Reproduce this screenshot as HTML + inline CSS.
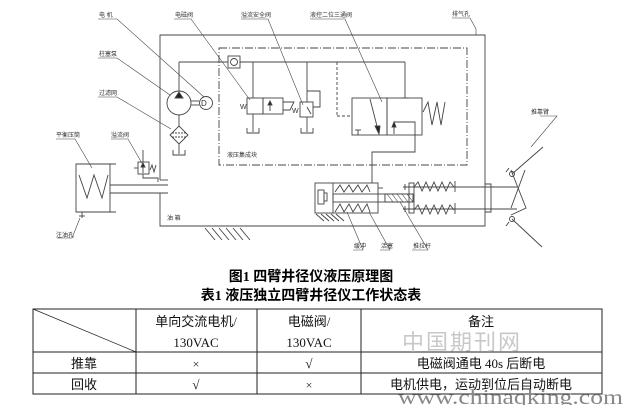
<!DOCTYPE html>
<html><head><meta charset="utf-8"><style>
html,body{margin:0;padding:0;background:#fff;}
svg{display:block;}
text{font-family:"Liberation Serif","Noto Sans CJK SC",serif;}
.s{font-family:"Liberation Sans","Noto Sans CJK SC",sans-serif;font-size:6px;fill:#333;}
</style></head><body>
<svg width="623" height="405" viewBox="0 0 623 405" xmlns="http://www.w3.org/2000/svg">
<g stroke="#444" stroke-width="0.9" fill="none">
<polyline points="160,180 160,35 485,35 485,226 160,226 160,193"/>
<line x1="160" y1="180" x2="168" y2="180"/><line x1="160" y1="193" x2="168" y2="193"/>
<rect x="219" y="48" width="248" height="117" stroke-dasharray="8,2,1,2"/>
<line x1="179" y1="62" x2="228" y2="62"/><line x1="240" y1="62" x2="405" y2="62"/>
<line x1="179" y1="62" x2="179" y2="91"/>
<rect x="228" y="56" width="12" height="12"/><circle cx="234" cy="62" r="3.5"/>
<circle cx="179" cy="103" r="12"/>
<polygon points="179,92 175,98 183,98" fill="#222"/>
<line x1="191" y1="101" x2="199" y2="101"/><line x1="191" y1="105" x2="199" y2="105"/>
<circle cx="206" cy="103" r="6.5"/>
<line x1="179" y1="115" x2="179" y2="126"/>
<polygon points="179,126 188,135 179,144 170,135"/>
<line x1="172" y1="133" x2="186" y2="133" stroke-dasharray="2,1"/>
<line x1="172" y1="137" x2="186" y2="137" stroke-dasharray="2,1"/>
<line x1="179" y1="144" x2="179" y2="154"/>
<polyline points="173,150 173,155 185,155 185,150"/>
<line x1="253" y1="62" x2="253" y2="98"/>
<rect x="247" y="98" width="16" height="16"/><rect x="263" y="98" width="20" height="16"/>
<path d="M283,102 L294,102 L290,110 L283,110"/>
<line x1="270" y1="111" x2="270" y2="103"/><polygon points="270,101 268,105 272,105" fill="#222"/>
<line x1="253" y1="114" x2="253" y2="132"/><polyline points="247,128 247,133 259,133 259,128"/>
<line x1="307" y1="62" x2="307" y2="102"/>
<rect x="300" y="102" width="13" height="15"/>
<line x1="307" y1="107" x2="311" y2="114"/>
<polyline points="313,107 320,107 320,91 307,91"/>
<line x1="307" y1="117" x2="307" y2="132"/><polyline points="301,128 301,133 313,133 313,128"/>
<rect x="352" y="98" width="35" height="37"/><rect x="387" y="98" width="35" height="37"/>
<line x1="405" y1="62" x2="405" y2="98"/><line x1="401" y1="98" x2="409" y2="98"/>
<line x1="337" y1="62" x2="337" y2="116" stroke-dasharray="3,2"/>
<line x1="337" y1="116" x2="352" y2="116" stroke-dasharray="3,2"/>
<line x1="370" y1="99" x2="378" y2="130"/><polygon points="379,134 375,126 380,126" fill="#222"/>
<polyline points="394,134 394,122 415,122 415,152 372,152 372,183"/>
<polygon points="394,122 392,127 396,127" fill="#222"/>
<line x1="358" y1="130" x2="358" y2="135"/><line x1="355" y1="130" x2="361" y2="130"/>
<polyline points="423,112 428,102 432,125 437,102 441,125 445,102"/>
<rect x="315" y="183" width="63" height="30"/>
<line x1="333" y1="183" x2="333" y2="213"/>
<rect x="318" y="190" width="6" height="14"/><rect x="324" y="193" width="3" height="8"/>
<polyline points="335,192 340,185 344,192 349,185 353,192 358,185 362,192 367,185 370,192"/>
<polyline points="335,212 340,204 344,212 349,204 353,212 358,204 362,212 367,204 370,212"/>
<rect x="333" y="194" width="52" height="8"/>
<line x1="378" y1="188" x2="383" y2="188"/>
<polygon points="385,194 413,194 413,202 385,202" fill="#fff"/>
<path d="M387,194 l6,8 M392,194 l6,8 M397,194 l6,8 M402,194 l6,8 M407,194 l6,8" stroke-width="0.6"/>
<rect x="409" y="183" width="5" height="30"/>
<polyline points="414,187 418,182 422,191 426,182 430,191 434,182 438,191 442,182 446,191 450,182 454,187"/>
<polyline points="414,210 418,205 422,214 426,205 430,214 434,205 438,214 442,205 446,214 450,205 454,210"/>
<line x1="455" y1="181" x2="455" y2="192"/><line x1="455" y1="203" x2="455" y2="214"/>
<line x1="403" y1="187" x2="517" y2="187"/><line x1="403" y1="209" x2="517" y2="209"/>
<line x1="405" y1="184" x2="405" y2="190"/><line x1="405" y1="206" x2="405" y2="212"/>
<path d="M485,184 l6,0 l0,28 l-6,0" />
<polyline points="511,170 526,208 511,215"/>
<polyline points="525,170 511,208"/>
<circle cx="512" cy="174" r="2.5"/><circle cx="512" cy="219" r="2.5"/>
<line x1="512" y1="174" x2="543" y2="147"/><line x1="512" y1="219" x2="542" y2="247"/>
<line x1="509" y1="168" x2="506" y2="172"/><line x1="509" y1="222" x2="506" y2="226"/>
<path d="M205,228 l10,12 M212,228 l10,12 M219,228 l10,12 M226,228 l10,12 M233,228 l10,12 M240,228 l10,12"/>
<path d="M316,214 l8,7 M321,214 l8,7 M326,214 l8,7 M331,214 l8,7 M336,214 l8,7"/>
<polyline points="116,164 76,164 76,212 116,212"/>
<line x1="110" y1="164" x2="110" y2="212"/>
<polyline points="79,175 87,198 94,175 102,198 108,175"/>
<line x1="110" y1="185" x2="168" y2="185"/><line x1="110" y1="193" x2="168" y2="193"/>
<line x1="82" y1="212" x2="82" y2="218"/><line x1="79" y1="216" x2="85" y2="216"/>
<rect x="138" y="162" width="11" height="12"/>
<line x1="143" y1="173" x2="143" y2="164"/><polygon points="143,163 141,167 145,167" fill="#222"/>
<line x1="134" y1="168" x2="138" y2="168"/>
<line x1="143" y1="150" x2="143" y2="162"/>
<polyline points="143,174 143,178 158,178 158,182"/>
<polyline points="150,170 152,165 154,172 156,165"/>
<g stroke-width="0.6">
<polyline points="98,19 117,19 204,97"/>
<polyline points="98,58 117,58 170,95"/>
<polyline points="98,97 117,97 171,129"/>
<polyline points="174,19 191,19 250,100"/>
<polyline points="241,19 268,19 303,105"/>
<polyline points="310,19 345,19 382,102"/>
<polyline points="452,18 470,18 476,29 476,35"/>
<polyline points="540,116 557,116 531,147"/>
<polyline points="56,139 75,139 92,168"/>
<polyline points="111,139 128,139 143,165"/>
<polyline points="57,238 72,238 80,218"/>
<polyline points="353,250 363,250 347,212"/>
<polyline points="380,250 390,250 369,212"/>
<polyline points="412,250 428,250 400,202"/>
</g>
</g>
<g>
<text class="s" x="99" y="17">电  机</text>
<text class="s" x="99" y="56">柱塞泵</text>
<text class="s" x="99" y="95">过滤网</text>
<text class="s" x="175" y="17">电磁阀</text>
<text class="s" x="241" y="17">溢流安全阀</text>
<text class="s" x="310" y="17">液控二位三通阀</text>
<text class="s" x="452" y="16">排气孔</text>
<text class="s" x="531" y="114">推靠臂</text>
<text class="s" x="56" y="137">平衡压筒</text>
<text class="s" x="111" y="137">溢流阀</text>
<text class="s" x="56" y="237">注油孔</text>
<text class="s" x="167" y="220">油  箱</text>
<text class="s" x="227" y="157">液压集成块</text>
<text class="s" x="354" y="248">缓冲</text>
<text class="s" x="381" y="248">活塞</text>
<text class="s" x="413" y="248">推拉杆</text>
<text class="s" x="201" y="106" style="font-size:8px">D</text>
<text class="s" x="240" y="109" style="font-size:7px">W</text>
<text class="s" x="292" y="113" style="font-size:7px">W</text>
</g>
<text x="311" y="281" text-anchor="middle" font-size="14" font-weight="bold" font-family="'Liberation Serif','Noto Serif CJK SC',serif">图1 四臂井径仪液压原理图</text>
<text x="311" y="300" text-anchor="middle" font-size="14" font-weight="bold" font-family="'Liberation Serif','Noto Serif CJK SC',serif">表1 液压独立四臂井径仪工作状态表</text>
<g stroke="#222" stroke-width="1" fill="none">
<rect x="33" y="309" width="569" height="85"/>
<line x1="136" y1="309" x2="136" y2="394"/><line x1="257" y1="309" x2="257" y2="394"/><line x1="361" y1="309" x2="361" y2="394"/>
<line x1="33" y1="352" x2="602" y2="352"/><line x1="33" y1="373" x2="602" y2="373"/>
<line x1="33" y1="309" x2="136" y2="352" stroke-width="0.7"/>
</g>
<text x="462" y="350" text-anchor="middle" font-size="22" fill="#c8c8c8" font-family="'Noto Serif CJK SC',serif" letter-spacing="2">中国期刊网</text>
<g font-size="13" fill="#111" text-anchor="middle">
<text x="196" y="326" font-family="'Noto Sans CJK SC',sans-serif">单向交流电机/</text>
<text x="196" y="347">130VAC</text>
<text x="309" y="326" font-family="'Noto Sans CJK SC',sans-serif">电磁阀/</text>
<text x="309" y="347">130VAC</text>
<text x="481" y="326" font-family="'Noto Sans CJK SC',sans-serif">备注</text>
<text x="84" y="368" font-family="'Noto Sans CJK SC',sans-serif">推靠</text>
<text x="196" y="368" font-family="'DejaVu Sans',sans-serif" font-size="12" font-weight="200">×</text>
<text x="309" y="368">√</text>
<text x="481" y="368" font-family="'Liberation Serif','Noto Sans CJK SC',serif">电磁阀通电 40s 后断电</text>
<text x="84" y="389" font-family="'Noto Sans CJK SC',sans-serif">回收</text>
<text x="196" y="389">√</text>
<text x="309" y="389" font-family="'DejaVu Sans',sans-serif" font-size="12">×</text>
<text x="481" y="389" font-family="'Noto Sans CJK SC',sans-serif">电机供电，运动到位后自动断电</text>
</g>
<text x="623" y="404" text-anchor="end" font-size="21" fill="#888" font-family="'DejaVu Sans Mono','Liberation Mono',monospace" textLength="225" lengthAdjust="spacingAndGlyphs">www.chinaqking.com</text>
</svg>
</body></html>
